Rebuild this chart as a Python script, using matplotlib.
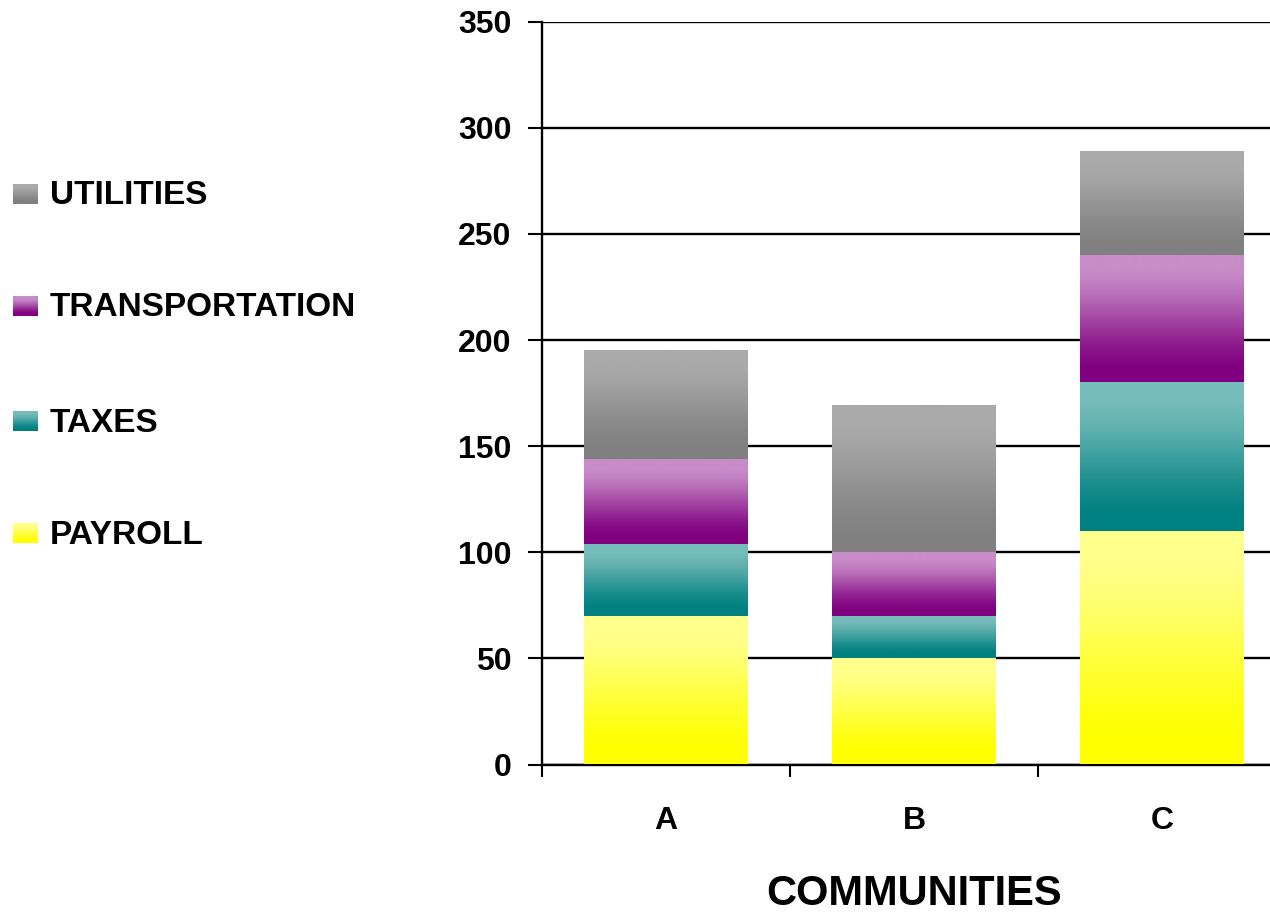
import numpy as np
import matplotlib
matplotlib.use("Agg")
import matplotlib.pyplot as plt
from matplotlib.colors import to_rgb

plt.rcParams['font.family'] = ['Liberation Sans', 'DejaVu Sans']
plt.rcParams['font.weight'] = 'bold'

# ---- data ----
categories = ['A', 'B', 'C']
series_names = ['PAYROLL', 'TAXES', 'TRANSPORTATION', 'UTILITIES']
payroll = [70, 50, 110]
taxes = [34, 20, 70]
transportation = [40, 30, 60]
utilities = [51, 69, 49]
y_ticks = [0, 50, 100, 150, 200, 250, 300, 350]
x_label = 'COMMUNITIES'

series_values = [payroll, taxes, transportation, utilities]
# (top colour, bottom colour) of each vertical gradient
grad_colors = [('#FFFF8C', '#FFFF00'),
               ('#76BCBA', '#008080'),
               ('#C88CC8', '#800080'),
               ('#AAAAAA', '#808080')]


def gradient(top, bottom, n=256):
    s = np.linspace(0, 1, n)
    t = np.clip((s - 0.12) / 0.78, 0, 1)
    t = t * t * (3 - 2 * t) * 0.5 + t * 0.5
    c0 = np.array(to_rgb(top))
    c1 = np.array(to_rgb(bottom))
    return (c0[None, :] * (1 - t[:, None]) + c1[None, :] * t[:, None])[:, None, :]


W, H = 1270, 914
fig = plt.figure(figsize=(W / 100, H / 100), dpi=100)

ax_left = 542 / W
ax_bottom = (H - 764.5) / H
ax_height = (764.5 - 21.7) / H
ax_width = 744 / W
ax = fig.add_axes([ax_left, ax_bottom, ax_width, ax_height])

x = np.arange(len(categories)) + 0.5
bar_w = 0.66
bottoms = np.zeros(len(categories))
for vals, (ctop, cbot), name in zip(series_values, grad_colors, series_names):
    bars = ax.bar(x, vals, bar_w, bottom=bottoms, color='none', edgecolor='none',
                  label=name, zorder=3)
    for rect in bars:
        x0, y0 = rect.get_x(), rect.get_y()
        ax.imshow(gradient(ctop, cbot), extent=(x0, x0 + rect.get_width(), y0, y0 + rect.get_height()),
                  aspect='auto', zorder=3, interpolation='bilinear')
    bottoms = bottoms + np.array(vals)

ax.set_xlim(0, len(categories))
ax.set_ylim(0, 350)
ax.set_yticks(y_ticks)
ax.set_yticklabels([str(v) for v in y_ticks])
ax.yaxis.grid(True, color='black', linewidth=1.7, zorder=1)
ax.set_axisbelow(True)

ax.set_xticks(np.arange(len(categories) + 1))
ax.set_xticklabels([])
ax.set_xticks(x, minor=True)
ax.set_xticklabels(categories, minor=True)
ax.tick_params(axis='x', which='major', direction='out', length=8.5, width=1.5, color='black')
ax.tick_params(axis='x', which='minor', length=0, pad=30, labelsize=23)
ax.tick_params(axis='y', direction='out', length=10, width=1.5, pad=12, labelsize=23)

for s in ['top', 'right']:
    ax.spines[s].set_visible(False)
for s in ['left', 'bottom']:
    ax.spines[s].set_linewidth(1.7)

ax.set_xlabel(x_label, fontsize=30, fontweight='bold')
ax.xaxis.set_label_coords(0.5, -(905 - 764.5) / 743)
ax.xaxis.label.set_verticalalignment('baseline')

# ---- legend drawn in a pixel-coordinate overlay ----
lax = fig.add_axes([0, 0, 1, 1], zorder=-1)
lax.set_xlim(0, W)
lax.set_ylim(H, 0)
lax.axis('off')
row_centers = [533, 421, 306, 194]
for name, (ctop, cbot), yc in zip(series_names, grad_colors, row_centers):
    lax.imshow(gradient(ctop, cbot), extent=(13, 38, yc + 10, yc - 10), aspect='auto',
               interpolation='bilinear', origin='upper')
    lax.text(50, yc + 2, name, fontsize=24, fontweight='bold', va='center', ha='left')
lax.set_xlim(0, W)
lax.set_ylim(H, 0)

fig.savefig('out.png', dpi=100)
